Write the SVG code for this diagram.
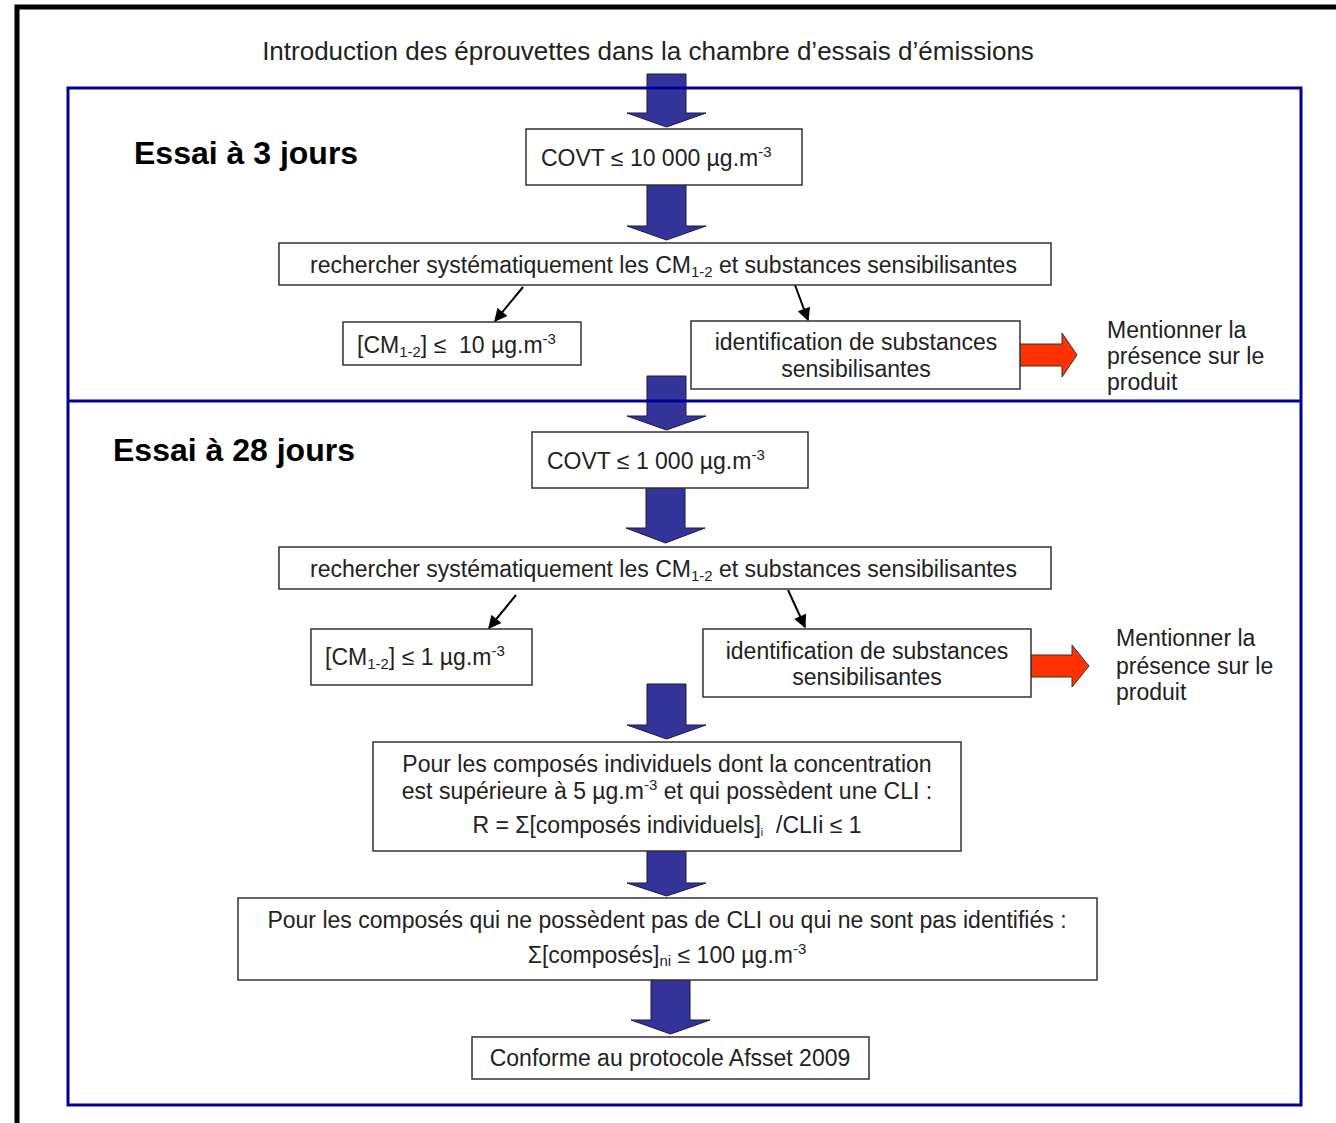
<svg xmlns="http://www.w3.org/2000/svg" width="1336" height="1123" viewBox="0 0 1336 1123">
<style>
text{font-family:"Liberation Sans",Arial,sans-serif;fill:#222;font-size:23px}
.title{font-size:26px}
.h{font-size:32px;font-weight:bold;fill:#000}
.c{text-anchor:middle}
.box{fill:#fff;stroke:#333;stroke-width:1.5}
.blue{fill:#333399;stroke:#1a1a40;stroke-width:1}
.red{fill:#ff3300;stroke:#333;stroke-width:1}
.conn{stroke:#000;stroke-width:2;fill:none;marker-end:url(#ah)}
.frame{fill:none;stroke:#000099;stroke-width:3}
.sub{font-size:15px}
.sup{font-size:15px}
</style>
<defs>
<marker id="ah" viewBox="0 0 10 10" refX="9" refY="5" markerWidth="14" markerHeight="13" markerUnits="userSpaceOnUse" orient="auto">
<path d="M0,0 L10,5 L0,10 z" fill="#000"/>
</marker>
</defs>
<rect width="1336" height="1123" fill="#fff"/>
<path d="M17,1123 V7 H1336" fill="none" stroke="#000" stroke-width="5"/>
<g id="title"><text class="title c" x="648" y="60">Introduction des éprouvettes dans la chambre d’essais d’émissions</text></g>

<g id="arrows-blue">
<polygon class="blue" points="647,74 686,74 686,113 706,113 666.5,127 627,113 647,113"/>
<polygon class="blue" points="647,185 686,185 686,226 706,226 666.5,240 627,226 647,226"/>
<polygon class="blue" points="647,376 686,376 686,416 706,416 666.5,430 627,416 647,416"/>
<polygon class="blue" points="646,488 685,488 685,528 705,528 665.5,543 626,528 646,528"/>
<polygon class="blue" points="647,684 686,684 686,725 706,725 666.5,739 627,725 647,725"/>
<polygon class="blue" points="647,851 686,851 686,883 706,883 666.5,896 627,883 647,883"/>
<polygon class="blue" points="651,980 690,980 690,1020 710,1020 670.5,1034 631,1020 651,1020"/>
</g>

<g id="frame-sections">
<rect class="frame" x="68" y="88" width="1233" height="1017"/>
<line x1="68" y1="401" x2="1301" y2="401" stroke="#000099" stroke-width="3"/>
</g>

<g id="connectors">
<line class="conn" x1="523" y1="287" x2="495" y2="321"/>
<line class="conn" x1="795" y1="285" x2="808" y2="320"/>
<line class="conn" x1="516" y1="595" x2="489" y2="628"/>
<line class="conn" x1="788" y1="590" x2="805" y2="627"/>
<polygon class="red" points="1020,344 1062,344 1062,333 1077,355 1062,377 1062,366 1020,366"/>
<polygon class="red" points="1031,655 1072,655 1072,645 1089,666 1072,687 1072,677 1031,677"/>
</g>

<g id="label-3j"><text class="h" x="134" y="164">Essai à 3 jours</text></g>
<g id="label-28j"><text class="h" x="113" y="461">Essai à 28 jours</text></g>

<g id="covt1">
<rect class="box" x="526" y="129" width="276" height="56"/>
<text x="541" y="166">COVT ≤ 10 000 µg.m<tspan class="sup" dy="-9">-3</tspan></text>
</g>
<g id="search1">
<rect class="box" x="279" y="243" width="772" height="42"/>
<text x="310" y="273">rechercher systématiquement les CM<tspan class="sub" dy="4">1-2</tspan><tspan dy="-4"> et substances sensibilisantes</tspan></text>
</g>
<g id="cm1">
<rect class="box" x="343" y="322" width="238" height="43"/>
<text x="357" y="353">[CM<tspan class="sub" dy="4">1-2</tspan><tspan dy="-4">] ≤&#160; 10 µg.m</tspan><tspan class="sup" dy="-9">-3</tspan></text>
</g>
<g id="ident1">
<rect class="box" x="691" y="321" width="329" height="68"/>
<text class="c" x="856" y="350">identification de substances</text>
<text class="c" x="856" y="377">sensibilisantes</text>
</g>
<g id="mention1">
<text x="1107" y="338">Mentionner la</text>
<text x="1107" y="364">présence sur le</text>
<text x="1107" y="390">produit</text>
</g>

<g id="covt2">
<rect class="box" x="532" y="432" width="276" height="56"/>
<text x="547" y="469">COVT ≤ 1 000 µg.m<tspan class="sup" dy="-9">-3</tspan></text>
</g>
<g id="search2">
<rect class="box" x="279" y="547" width="772" height="42"/>
<text x="310" y="577">rechercher systématiquement les CM<tspan class="sub" dy="4">1-2</tspan><tspan dy="-4"> et substances sensibilisantes</tspan></text>
</g>
<g id="cm2">
<rect class="box" x="311" y="629" width="221" height="56"/>
<text x="325" y="665">[CM<tspan class="sub" dy="4">1-2</tspan><tspan dy="-4">] ≤ 1 µg.m</tspan><tspan class="sup" dy="-9">-3</tspan></text>
</g>
<g id="ident2">
<rect class="box" x="703" y="629" width="328" height="68"/>
<text class="c" x="867" y="659">identification de substances</text>
<text class="c" x="867" y="685">sensibilisantes</text>
</g>
<g id="mention2">
<text x="1116" y="646">Mentionner la</text>
<text x="1116" y="674">présence sur le</text>
<text x="1116" y="700">produit</text>
</g>

<g id="cli">
<rect class="box" x="373" y="742" width="588" height="109"/>
<text class="c" x="667" y="772">Pour les composés individuels dont la concentration</text>
<text class="c" x="667" y="799">est supérieure à 5 µg.m<tspan class="sup" dy="-9">-3</tspan><tspan dy="9"> et qui possèdent une CLI :</tspan></text>
<text class="c" x="667" y="833">R = Σ[composés individuels]<tspan font-size="11" dy="3">i</tspan><tspan dy="-3">&#160; /CLIi ≤ 1</tspan></text>
</g>
<g id="nocli">
<rect class="box" x="238" y="898" width="859" height="82"/>
<text class="c" x="667" y="928">Pour les composés qui ne possèdent pas de CLI ou qui ne sont pas identifiés :</text>
<text class="c" x="667" y="963">Σ[composés]<tspan font-size="15" dy="3">ni</tspan><tspan dy="-3"> ≤ 100 µg.m</tspan><tspan class="sup" dy="-9">-3</tspan></text>
</g>
<g id="conforme">
<rect class="box" x="472" y="1037" width="397" height="42"/>
<text class="c" x="670" y="1066">Conforme au protocole Afsset 2009</text>
</g>
</svg>
